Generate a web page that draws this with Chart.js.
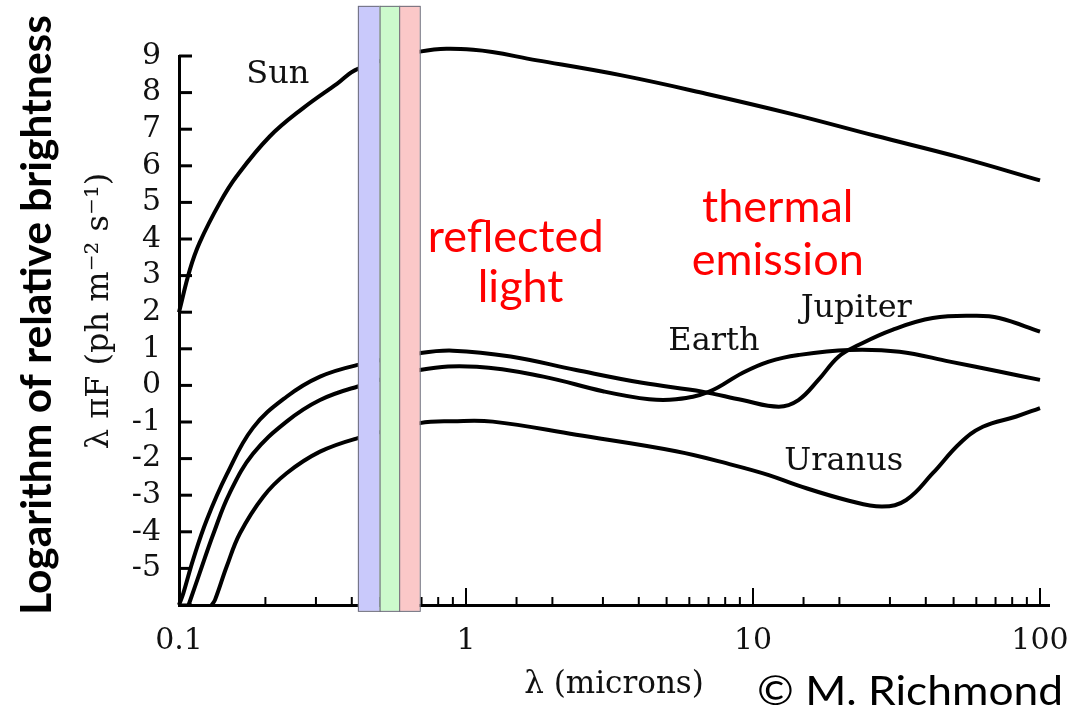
<!DOCTYPE html>
<html>
<head>
<meta charset="utf-8">
<script src="https://cdn.jsdelivr.net/npm/chart.js@4.4.1/dist/chart.umd.min.js"></script>
<style>
    html, body { margin: 0; padding: 0; background: #fff; }
    #wrap { width: 1071px; height: 715px; }
</style>
</head>
<body>
<div id="wrap"><canvas id="chart"></canvas></div>
<script>
// wavelengths in microns, values are log10 of lambda*pi*F
const sunWavelength = [0.1, 0.109, 0.118, 0.139, 0.159, 0.207, 0.27, 0.355, 0.42, 0.69, 1.06, 1.77, 3.49, 6.86, 13.6, 26.7, 52.6, 100];
const sunLog = [2.0, 3.15, 3.9, 5.0, 5.72, 6.8, 7.57, 8.24, 8.65, 9.12, 9.17, 8.88, 8.47, 7.97, 7.42, 6.82, 6.23, 5.6];

const jupiterWavelength = [0.1, 0.1035, 0.112, 0.125, 0.147, 0.181, 0.237, 0.31, 0.42, 0.69, 0.9, 1.43, 2.42, 4.11, 6.66, 9.18, 12.3, 14.4, 16.9, 19.9, 23.4, 30.6, 42.3, 60.2, 72, 100];
const jupiterLog = [-6, -5.68, -4.76, -3.67, -2.42, -1.16, -0.31, 0.24, 0.56, 0.88, 0.95, 0.79, 0.42, 0.07, -0.17, -0.4, -0.58, -0.4, 0.15, 0.79, 1.11, 1.52, 1.84, 1.9, 1.84, 1.47];

const earthWavelength = [0.108, 0.118, 0.132, 0.15, 0.181, 0.237, 0.31, 0.42, 0.69, 1.09, 1.86, 3.0, 4.35, 5.39, 7.04, 9.18, 11.35, 14.4, 21.6, 32.4, 48.5, 72, 100];
const earthLog = [-6, -5.13, -4.04, -2.95, -1.87, -0.99, -0.4, -0.03, 0.42, 0.51, 0.24, -0.16, -0.38, -0.38, -0.17, 0.34, 0.65, 0.83, 0.97, 0.92, 0.65, 0.38, 0.15];

const uranusWavelength = [0.13, 0.1335, 0.1466, 0.1631, 0.1966, 0.2371, 0.31, 0.42, 0.69, 0.9, 1.24, 2.42, 5.39, 8.47, 11.35, 14.4, 21.6, 28.2, 34.2, 42.3, 52.6, 63.2, 82.7, 100];
const uranusLog = [-6, -5.86, -4.95, -4.04, -3.04, -2.4, -1.81, -1.44, -1.03, -0.98, -0.99, -1.35, -1.8, -2.17, -2.45, -2.74, -3.15, -3.31, -3.13, -2.4, -1.58, -1.13, -0.85, -0.62];

// visible light bands (blue, green, red)
const bandStart = [0.42, 0.5, 0.585];
const bandEnd = [0.5, 0.585, 0.69];
const bandLogTop = 10.37;
const bandLogBottom = -6.16;

const yTickLabels = [9, 8, 7, 6, 5, 4, 3, 2, 1, 0, -1, -2, -3, -4, -5];
const xTickLabels = [0.1, 1, 10, 100];

const curveNames = ['Sun', 'Earth', 'Jupiter', 'Uranus'];

function initSpectrumChart() {
    const canvas = document.getElementById('chart');
    const serif = '"DejaVu Serif", serif';

    const toPoints = (xs, ys) => xs.map((v, i) => ({ x: v, y: ys[i] }));
    const isDecade = (v) => {
        const lg = Math.log10(v);
        return Math.abs(lg - Math.round(lg)) < 1e-6;
    };

    const curve = (label, xs, ys) => ({
        label,
        data: toPoints(xs, ys),
        borderColor: '#000',
        borderWidth: 4,
        pointRadius: 0,
        tension: 0.4,
        clip: false,
        fill: false,
    });

    // squeeze or stretch a line of text to a given width
    const fitText = (ctx, text, width) => {
        const w = ctx.measureText(text).width;
        ctx.scale(width / w, 1);
        ctx.fillText(text, 0, 0);
    };

    // annotation anchors in data space (wavelength, log value at baseline)
    const nameAt = [[0.221, 8.26], [7.31, 0.97], [22.9, 1.87], [20.7, -2.31]];

    const inwardTicks = {
        id: 'inwardTicks',
        beforeDatasetsDraw(chart) {
            const { ctx, chartArea, scales: { x, y } } = chart;
            ctx.save();
            ctx.strokeStyle = '#000';
            ctx.lineWidth = 3;
            y.ticks.forEach((t) => {
                const py = y.getPixelForValue(t.value);
                ctx.beginPath();
                ctx.moveTo(chartArea.left, py);
                ctx.lineTo(chartArea.left + 13, py);
                ctx.stroke();
            });
            ctx.lineWidth = 2;
            x.ticks.forEach((t) => {
                const px = x.getPixelForValue(t.value);
                const len = isDecade(t.value) ? 17 : 8;
                ctx.beginPath();
                ctx.moveTo(px, chartArea.bottom);
                ctx.lineTo(px, chartArea.bottom - len);
                ctx.stroke();
            });
            // axis runs on a little past 100
            ctx.lineWidth = 3;
            ctx.beginPath();
            ctx.moveTo(chartArea.right, chartArea.bottom + 0.5);
            ctx.lineTo(chartArea.right + 10, chartArea.bottom + 0.5);
            ctx.stroke();
            ctx.restore();
        },
    };

    const bands = {
        id: 'bands',
        afterDatasetsDraw(chart) {
            const { ctx, scales: { x, y } } = chart;
            const fills = ['#c9c9fb', '#ccfacc', '#fbc8c8'];
            const top = y.getPixelForValue(bandLogTop);
            const bottom = y.getPixelForValue(bandLogBottom);
            ctx.save();
            bandStart.forEach((start, i) => {
                const left = x.getPixelForValue(start);
                const right = x.getPixelForValue(bandEnd[i]);
                ctx.fillStyle = fills[i];
                ctx.fillRect(left, top, right - left, bottom - top);
                ctx.strokeStyle = '#6b6b78';
                ctx.lineWidth = 1;
                ctx.strokeRect(left + 0.5, top + 0.5, right - left, bottom - top);
            });
            ctx.restore();
        },
    };

    const texts = {
        id: 'texts',
        afterDraw(chart) {
            const { ctx, scales: { x, y } } = chart;
            ctx.save();
            ctx.textAlign = 'center';
            ctx.textBaseline = 'alphabetic';

            ctx.fillStyle = '#111';
            ctx.font = `32px ${serif}`;
            curveNames.forEach((name, i) => {
                ctx.fillText(name, x.getPixelForValue(nameAt[i][0]), y.getPixelForValue(nameAt[i][1]));
            });

            ctx.fillStyle = '#ff0000';
            ctx.font = '45px Lato, sans-serif';
            ctx.fillText('reflected', x.getPixelForValue(1.49), y.getPixelForValue(3.65));
            ctx.fillText('light', x.getPixelForValue(1.55), y.getPixelForValue(2.28));
            ctx.fillText('thermal', x.getPixelForValue(12.2), y.getPixelForValue(4.47));
            ctx.fillText('emission', x.getPixelForValue(12.2), y.getPixelForValue(3.02));

            ctx.fillStyle = '#111';
            ctx.font = `31px ${serif}`;
            ctx.fillText('λ (microns)', 614, 693);

            ctx.fillStyle = '#000';
            ctx.font = '40px Lato, sans-serif';
            ctx.save();
            ctx.translate(910, 705);
            fitText(ctx, '© M. Richmond', 306);
            ctx.restore();

            ctx.save();
            ctx.translate(51, 315);
            ctx.rotate(-Math.PI / 2);
            ctx.font = '700 42px Lato, sans-serif';
            fitText(ctx, 'Logarithm of relative brightness', 600);
            ctx.restore();

            ctx.save();
            ctx.translate(108, 311);
            ctx.rotate(-Math.PI / 2);
            ctx.fillStyle = '#111';
            ctx.font = `32px ${serif}`;
            ctx.fillText('λ πF (ph m⁻² s⁻¹)', 0, 0);
            ctx.restore();

            ctx.restore();
        },
    };

    new Chart(canvas, {
        type: 'line',
        data: {
            datasets: [
                curve('Sun', sunWavelength, sunLog),
                curve('Jupiter', jupiterWavelength, jupiterLog),
                curve('Earth', earthWavelength, earthLog),
                curve('Uranus', uranusWavelength, uranusLog),
            ],
        },
        options: {
            responsive: true,
            maintainAspectRatio: false,
            animation: false,
            devicePixelRatio: 1,
            layout: {
                padding: { top: 56, right: 31, left: 0, bottom: 0 },
            },
            plugins: {
                legend: { display: false },
                tooltip: { enabled: false },
            },
            scales: {
                x: {
                    type: 'logarithmic',
                    min: 0.1,
                    max: 100,
                    grid: { display: false },
                    border: { display: true, color: '#000', width: 3 },
                    afterFit: (scale) => {
                        scale.height = 110;
                        scale.paddingLeft = 0;
                        scale.paddingRight = 0;
                    },
                    ticks: {
                        autoSkip: false,
                        maxRotation: 0,
                        padding: 10,
                        color: '#111',
                        font: { family: 'DejaVu Serif', size: 30 },
                        callback: (value) => {
                            if (!isDecade(value)) {
                                return '';
                            }
                            const p = Math.pow(10, Math.round(Math.log10(value)));
                            return xTickLabels.includes(p) ? String(p) : '';
                        },
                    },
                },
                y: {
                    type: 'linear',
                    min: -6,
                    max: 9,
                    grid: { display: false },
                    border: { display: true, color: '#000', width: 3 },
                    afterFit: (scale) => { scale.width = 179; },
                    ticks: {
                        stepSize: 1,
                        autoSkip: false,
                        padding: 10,
                        color: '#111',
                        font: { family: 'DejaVu Serif', size: 30 },
                        callback: (value) => (yTickLabels.includes(value) ? String(value) : ''),
                    },
                },
            },
        },
        plugins: [inwardTicks, bands, texts],
    });
}

if (document.readyState === 'loading') {
    document.addEventListener('DOMContentLoaded', initSpectrumChart);
} else {
    initSpectrumChart();
}
</script>
</body>
</html>
